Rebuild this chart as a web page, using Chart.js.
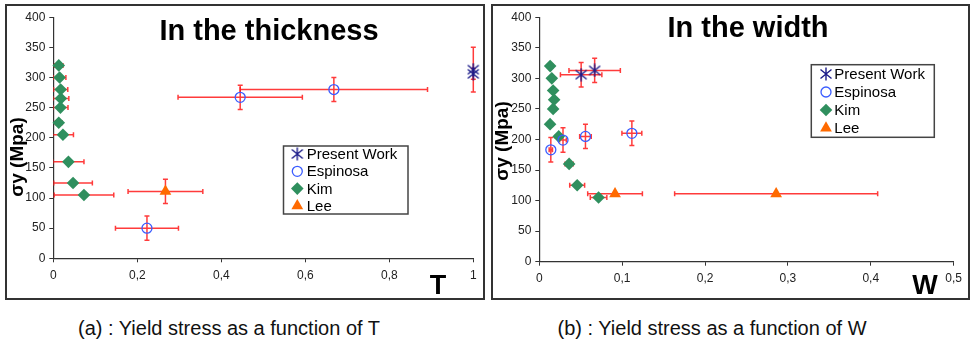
<!DOCTYPE html>
<html>
<head>
<meta charset="utf-8">
<script src="https://cdn.jsdelivr.net/npm/chart.js@4.4.0/dist/chart.umd.min.js"></script>
<style>
  body { margin: 0; background: #fff; width: 971px; height: 346px; position: relative; overflow: hidden;
         font-family: "Liberation Sans", Arial, sans-serif; }
  .frame { position: absolute; border: 2px solid #333; }
  .caption { position: absolute; font-size: 20px; color: #111; transform: translateX(-50%); white-space: nowrap; }
</style>
</head>
<body>
<div class="frame" style="left:5px;top:4px;width:476px;height:292px;"><canvas id="chartT" width="476" height="292"></canvas></div>
<div class="frame" style="left:491px;top:4px;width:475px;height:292px;"><canvas id="chartW" width="475" height="292"></canvas></div>
<div class="caption" style="left:229px;top:317px;">(a) : Yield stress as a function of T</div>
<div class="caption" style="left:712px;top:317px;">(b) : Yield stress as a function of W</div>

<script>
// ---- data: thickness (T) ----
const presentT = [1.0, 1.0];
const presentTY = [313, 306];
const presentTXErr = [0, 0];
const presentTYErr = [37, 9];

const espinosaT = [0.223, 0.445, 0.668];
const espinosaTY = [50, 267, 280];
const espinosaTXErr = [0.075, 0.148, 0.223];
const espinosaTYErr = [20, 20, 20];

const kimT = [0.013, 0.015, 0.0175, 0.018, 0.017, 0.013, 0.023, 0.036, 0.047, 0.073];
const kimTY = [320, 300, 280, 265, 250, 225, 205, 160, 125, 105];
const kimTXErr = [0.01, 0.015, 0.017, 0.019, 0.018, 0.008, 0.025, 0.037, 0.046, 0.071];

const leeT = [0.267];
const leeTY = [111];
const leeTXErr = [0.089];
const leeTYErr = [20];

// ---- data: width (W) ----
const presentW = [0.0505, 0.0668];
const presentWY = [306, 313];
const presentWXErr = [0.025, 0.031];
const presentWYErr = [20, 20];

const espinosaW = [0.0139, 0.0286, 0.0557, 0.1117];
const espinosaWY = [183, 199, 205, 210];
const espinosaWXErr = [0.002, 0.004, 0.007, 0.012];
const espinosaWYErr = [20, 20, 20, 20];

const kimW = [0.0131, 0.0151, 0.0167, 0.0179, 0.0167, 0.013, 0.0234, 0.036, 0.0457, 0.0715];
const kimWY = [320, 300, 280, 265, 250, 225, 205, 160, 125, 105];
const kimWXErr = [0.003, 0.003, 0.003, 0.003, 0.003, 0.003, 0.004, 0.005, 0.009, 0.010];

const leeW = [0.0914, 0.2858];
const leeWY = [111, 111];
const leeWXErr = [0.033, 0.1225];

// ---- tick labels ----
const yTicks = ['0', '50', '100', '150', '200', '250', '300', '350', '400'];
const tTicks = ['0', '0,2', '0,4', '0,6', '0,8', '1'];
const wTicks = ['0', '0,1', '0,2', '0,3', '0,4', '0,5'];

const seriesNames = ['Present Work', 'Espinosa', 'Kim', 'Lee'];

const FONT = '"Liberation Sans", Arial, sans-serif';
const NAVY = '#1c1c8a', BLUE = '#3a5cff', GREEN = '#2f8f5e', ORANGE = '#ff6a00';

// excel-like star marker (X plus vertical bar)
function makeStar() {
    const c = document.createElement('canvas');
    c.width = 14; c.height = 14;
    const g = c.getContext('2d');
    g.strokeStyle = NAVY;
    g.lineWidth = 1.4;
    g.beginPath();
    g.moveTo(1.5, 2.5); g.lineTo(12.5, 11.5);
    g.moveTo(12.5, 2.5); g.lineTo(1.5, 11.5);
    g.moveTo(7, 0.5); g.lineTo(7, 13.5);
    g.stroke();
    return c;
}
const starImg = makeStar();

function pts(xs, ys) {
    return xs.map((x, i) => ({x: x, y: ys[i]}));
}

function makeDatasets(px, py, pxe, pye, ex, ey, exe, eye, kx, ky, kxe, lx, ly, lxe, lye) {
    return [
        {label: seriesNames[0], data: pts(px, py), errX: pxe, errY: pye, clip: false,
            pointStyle: starImg, pointRadius: 7, backgroundColor: NAVY, borderColor: NAVY},
        {label: seriesNames[1], data: pts(ex, ey), errX: exe, errY: eye, clip: false,
            pointStyle: 'circle', pointRadius: 5, borderWidth: 1.3, backgroundColor: 'rgba(0,0,0,0)', borderColor: BLUE},
        {label: seriesNames[2], data: pts(kx, ky), errX: kxe, errY: [], clip: false,
            pointStyle: 'rectRot', pointRadius: 6.3, borderWidth: 0, backgroundColor: GREEN, borderColor: GREEN},
        {label: seriesNames[3], data: pts(lx, ly), errX: lxe, errY: lye, clip: false,
            pointStyle: 'triangle', pointRadius: 6.8, borderWidth: 0, backgroundColor: ORANGE, borderColor: ORANGE}
    ];
}

const errorBars = {
    id: 'errorBars',
    beforeDatasetsDraw(chart) {
        const ctx = chart.ctx, xs = chart.scales.x, ys = chart.scales.y, a = chart.chartArea;
        ctx.save();
        // only cut what runs past the y axis (negative x)
        ctx.beginPath();
        ctx.rect(a.left, 0, chart.width - a.left, a.bottom);
        ctx.clip();
        ctx.strokeStyle = 'rgba(255,25,25,0.85)';
        ctx.lineWidth = 1.5;
        const cap = 2.5;
        chart.data.datasets.forEach(ds => {
            ds.data.forEach((p, i) => {
                const cx = xs.getPixelForValue(p.x), cy = ys.getPixelForValue(p.y);
                const ex = ds.errX[i] || 0, ey = ds.errY[i] || 0;
                ctx.beginPath();
                if (ex) {
                    const x1 = xs.getPixelForValue(p.x - ex), x2 = xs.getPixelForValue(p.x + ex);
                    ctx.moveTo(x1, cy); ctx.lineTo(x2, cy);
                    ctx.moveTo(x1, cy - cap); ctx.lineTo(x1, cy + cap);
                    ctx.moveTo(x2, cy - cap); ctx.lineTo(x2, cy + cap);
                }
                if (ey) {
                    const y1 = ys.getPixelForValue(p.y - ey), y2 = ys.getPixelForValue(p.y + ey);
                    ctx.moveTo(cx, y1); ctx.lineTo(cx, y2);
                    ctx.moveTo(cx - cap, y1); ctx.lineTo(cx + cap, y1);
                    ctx.moveTo(cx - cap, y2); ctx.lineTo(cx + cap, y2);
                }
                ctx.stroke();
            });
        });
        ctx.restore();
    }
};

const decorations = {
    id: 'decorations',
    afterDraw(chart, args, o) {
        const ctx = chart.ctx;
        ctx.save();
        ctx.fillStyle = '#000';
        ctx.textAlign = 'center';
        ctx.textBaseline = 'middle';
        // title inside plot
        ctx.font = 'bold 29px ' + FONT;
        ctx.fillText(o.title, o.titleX, o.titleY);
        // axis letter
        ctx.font = 'bold 27px ' + FONT;
        ctx.fillText(o.axis, o.axisX, o.axisY);
        // rotated y label
        ctx.save();
        ctx.translate(o.yLabelX, o.yLabelY);
        ctx.rotate(-Math.PI / 2);
        ctx.font = 'bold 19px ' + FONT;
        ctx.fillText('σy (Mpa)', 0, 0);
        ctx.restore();
        // legend
        const L = o.legend;
        ctx.fillStyle = '#fff';
        ctx.fillRect(L.left, L.top, L.width, L.height);
        ctx.strokeStyle = '#444';
        ctx.lineWidth = 1.5;
        ctx.strokeRect(L.left, L.top, L.width, L.height);
        chart.data.datasets.forEach((ds, i) => {
            const y = L.firstRow + i * L.step;
            ctx.fillStyle = ds.backgroundColor;
            ctx.strokeStyle = ds.borderColor;
            ctx.lineWidth = ds.borderWidth || 0;
            Chart.helpers.drawPoint(ctx, {
                pointStyle: ds.pointStyle, rotation: 0,
                radius: ds.pointRadius, borderWidth: ds.borderWidth || 0
            }, L.markerX, y);
            ctx.fillStyle = '#000';
            ctx.textAlign = 'left';
            ctx.font = '15px ' + FONT;
            ctx.fillText(ds.label, L.textX, y + 1);
        });
        ctx.restore();
    }
};

function makeOptions(xMax, xStep, xLabels, yWidth, xHeight, pad, deco) {
    return {
        responsive: false,
        animation: false,
        layout: {padding: pad},
        plugins: {
            legend: {display: false},
            tooltip: {enabled: false},
            decorations: deco
        },
        scales: {
            x: {
                type: 'linear',
                min: 0,
                max: xMax,
                afterFit: s => { s.height = xHeight; },
                ticks: {
                    stepSize: xStep,
                    color: '#222',
                    padding: 6,
                    maxRotation: 0,
                    font: {family: FONT, size: 12},
                    callback: (v, i) => xLabels[i]
                },
                grid: {display: true, drawOnChartArea: false, drawTicks: true, tickLength: 4, color: '#333'},
                border: {display: true, color: '#333', width: 1.2}
            },
            y: {
                min: 0,
                max: 400,
                afterFit: s => { s.width = yWidth; },
                ticks: {
                    stepSize: 50,
                    color: '#222',
                    padding: 4,
                    font: {family: FONT, size: 12},
                    callback: (v, i) => yTicks[i]
                },
                grid: {display: true, drawOnChartArea: false, drawTicks: true, tickLength: 4, color: '#333'},
                border: {display: true, color: '#333', width: 1.2}
            }
        }
    };
}

new Chart(document.getElementById('chartT'), {
    type: 'scatter',
    data: {
        datasets: makeDatasets(presentT, presentTY, presentTXErr, presentTYErr,
            espinosaT, espinosaTY, espinosaTXErr, espinosaTYErr,
            kimT, kimTY, kimTXErr, leeT, leeTY, leeTXErr, leeTYErr)
    },
    options: makeOptions(1, 0.2, tTicks, 46.3, 39.7, {left: 0, right: 9.7, top: 8.7, bottom: 0}, {
        title: 'In the thickness', titleX: 262, titleY: 26,
        axis: 'T', axisX: 431, axisY: 281,
        yLabelX: 11, yLabelY: 151,
        legend: {left: 276.5, top: 140, width: 124.5, height: 68, firstRow: 148, step: 17.3, markerX: 290.3, textX: 299.7}
    }),
    plugins: [errorBars, decorations]
});

new Chart(document.getElementById('chartW'), {
    type: 'scatter',
    data: {
        datasets: makeDatasets(presentW, presentWY, presentWXErr, presentWYErr,
            espinosaW, espinosaWY, espinosaWXErr, espinosaWYErr,
            kimW, kimWY, kimWXErr, leeW, leeWY, leeWXErr, [0, 0])
    },
    options: makeOptions(0.5, 0.1, wTicks, 46.3, 36.3, {left: 0, right: 9.3, top: 9.7, bottom: 0}, {
        title: 'In the width', titleX: 255, titleY: 23,
        axis: 'W', axisX: 432, axisY: 281,
        yLabelX: 10, yLabelY: 135,
        legend: {left: 318.3, top: 58.7, width: 123, height: 72.6, firstRow: 68, step: 18, markerX: 333, textX: 341.3}
    }),
    plugins: [errorBars, decorations]
});
</script>
</body>
</html>
